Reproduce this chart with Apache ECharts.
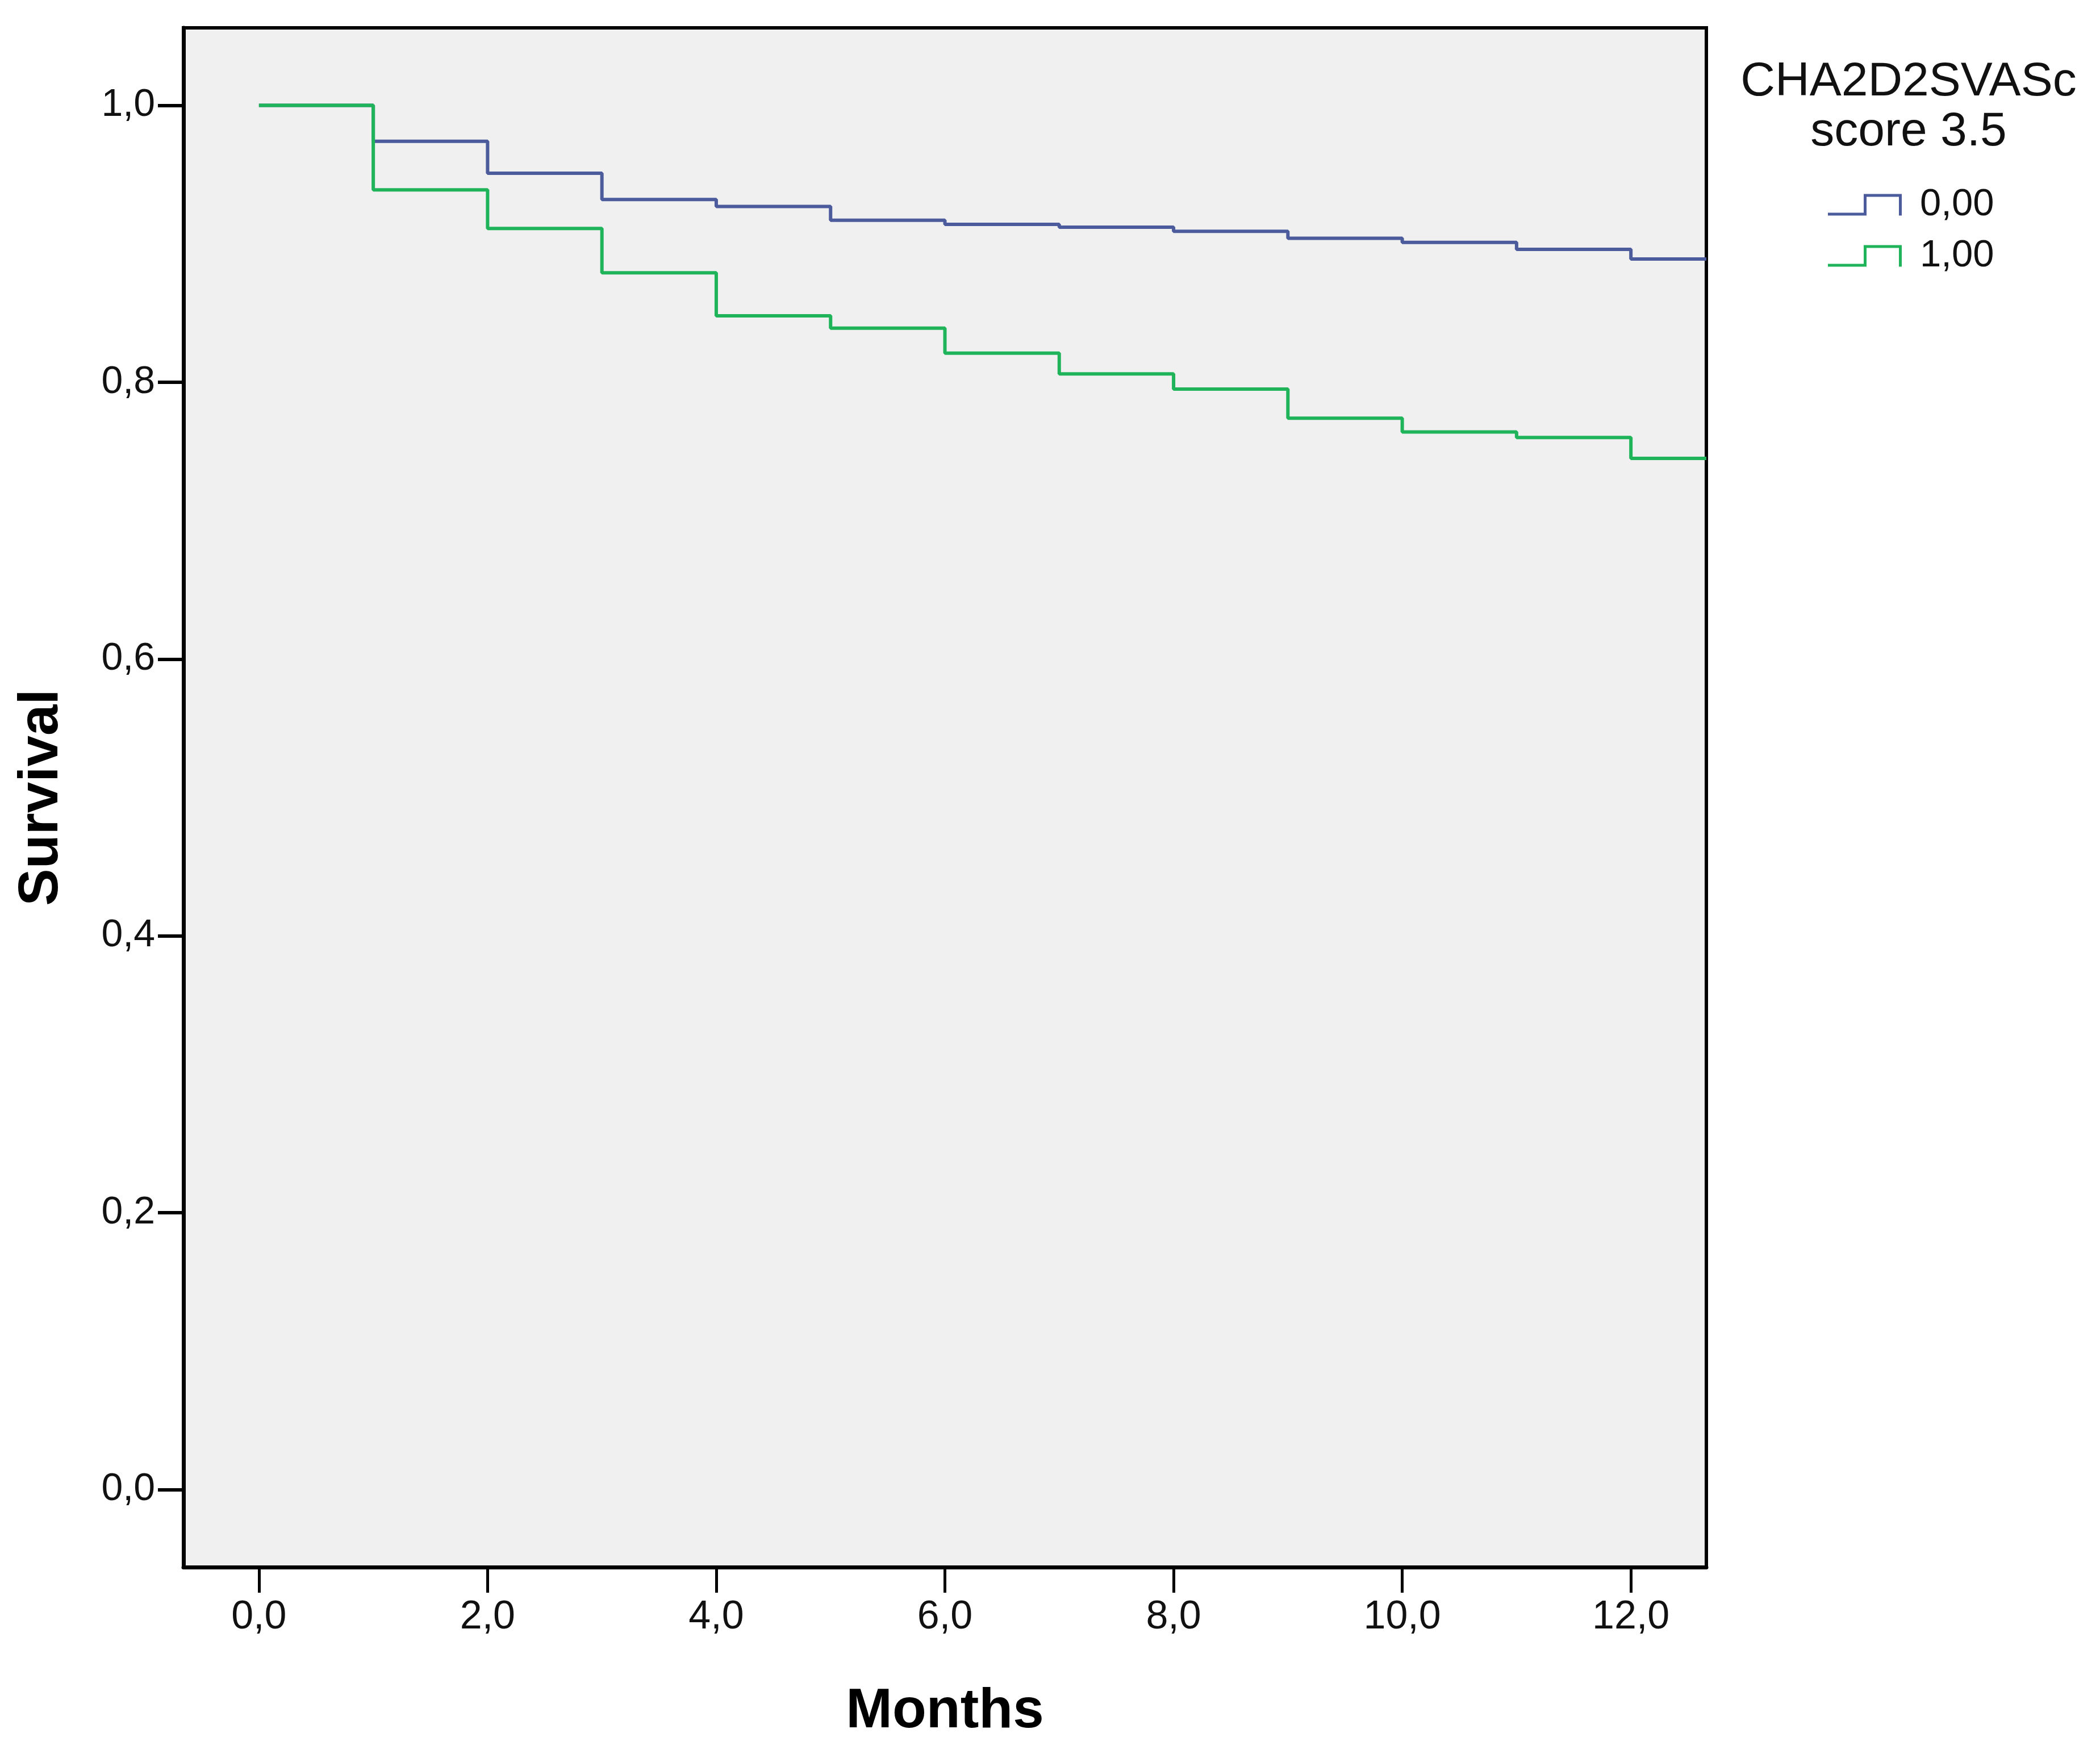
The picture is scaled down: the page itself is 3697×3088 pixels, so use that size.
<!DOCTYPE html>
<html>
<head>
<meta charset="utf-8">
<script src="https://cdn.jsdelivr.net/npm/echarts@6/dist/echarts.min.js"></script>
<style>
html,body{margin:0;padding:0;background:#fff;}
#chart{width:3697px;height:3088px;}
</style>
</head>
<body>
<div id="chart"></div>
<script>
// Data
var months = [0, 1, 2, 3, 4, 5, 6, 7, 8, 9, 10, 11, 12, 12.66];
var survivalGroup0 = [1.0, 0.974, 0.951, 0.932, 0.927, 0.917, 0.914, 0.912, 0.909, 0.904, 0.901, 0.896, 0.889, 0.889];
var survivalGroup1 = [1.0, 0.939, 0.911, 0.879, 0.848, 0.839, 0.821, 0.806, 0.795, 0.774, 0.764, 0.760, 0.745, 0.745];
var groupNames = ['0,00', '1,00'];
var xTicks = [0, 2, 4, 6, 8, 10, 12];
var yTicks = [0, 0.2, 0.4, 0.6, 0.8, 1.0];
var legendTitle = 'CHA2D2SVASc\nscore 3.5';

var colors = ['#4b5b9b', '#1fb45a'];
var font = '"Liberation Sans", Arial, Helvetica, sans-serif';
function comma(v){ return v.toFixed(1).replace('.', ','); }
function pairs(xs, ys){ return xs.map(function(x, i){ return [x, ys[i]]; }); }

var stepIcon = 'path://M0,33 L63,33 L63,0 L130,0 L130,38 L125,38 L125,5 L68,5 L68,38 L0,38 Z';

var chart = echarts.init(document.getElementById('chart'), null, {renderer: 'canvas'});
chart.setOption({
  backgroundColor: '#ffffff',
  animation: false,
  title: {
    text: legendTitle,
    left: 3355,
    top: 96,
    textAlign: 'center',
    textStyle: {fontFamily: font, fontSize: 84, fontWeight: 'normal', color: '#111', lineHeight: 88}
  },
  legend: {
    orient: 'vertical',
    left: 3213,
    top: 322,
    itemWidth: 130,
    itemHeight: 38,
    itemGap: 23,
    data: [
      {name: groupNames[0], icon: stepIcon},
      {name: groupNames[1], icon: stepIcon}
    ],
    itemStyle: {borderWidth: 0},
    textStyle: {fontFamily: font, fontSize: 67, color: '#111', lineHeight: 67, padding: [0, 0, 0, 27]}
  },
  grid: {
    left: 323, right: 693, top: 49, bottom: 329,
    show: true, backgroundColor: '#f0f0f0', borderColor: '#000', borderWidth: 6,
    containLabel: false
  },
  xAxis: {
    type: 'value', min: -0.66, max: 12.66,
    name: 'Months', nameLocation: 'middle', nameGap: 206,
    nameTextStyle: {fontFamily: font, fontSize: 98, fontWeight: 'bold', color: '#000'},
    axisLine: {show: true, onZero: false, lineStyle: {color: '#000', width: 7}},
    axisTick: {show: true, inside: false, length: 45, customValues: xTicks, lineStyle: {color: '#000', width: 5}},
    axisLabel: {show: true, customValues: xTicks, margin: 54, fontFamily: font, fontSize: 70, color: '#111', formatter: function(v){ return comma(v); }},
    splitLine: {show: false}
  },
  yAxis: {
    type: 'value', min: -0.056, max: 1.056,
    name: 'Survival', nameLocation: 'middle', nameGap: 200, nameRotate: 90,
    nameTextStyle: {fontFamily: font, fontSize: 98, fontWeight: 'bold', color: '#000'},
    axisLine: {show: true, onZero: false, lineStyle: {color: '#000', width: 7}},
    axisTick: {show: true, inside: false, length: 45, customValues: yTicks, lineStyle: {color: '#000', width: 6}},
    axisLabel: {show: true, customValues: yTicks, margin: 50, fontFamily: font, fontSize: 68, color: '#111', formatter: function(v){ return comma(v); }},
    splitLine: {show: false}
  },
  series: [
    {
      name: groupNames[0], type: 'line', step: 'end', symbol: 'none',
      data: pairs(months, survivalGroup0),
      lineStyle: {color: colors[0], width: 6},
      itemStyle: {color: colors[0]},
      z: 2
    },
    {
      name: groupNames[1], type: 'line', step: 'end', symbol: 'none',
      data: pairs(months, survivalGroup1),
      lineStyle: {color: colors[1], width: 6},
      itemStyle: {color: colors[1]},
      z: 3
    }
  ]
});
</script>
</body>
</html>
